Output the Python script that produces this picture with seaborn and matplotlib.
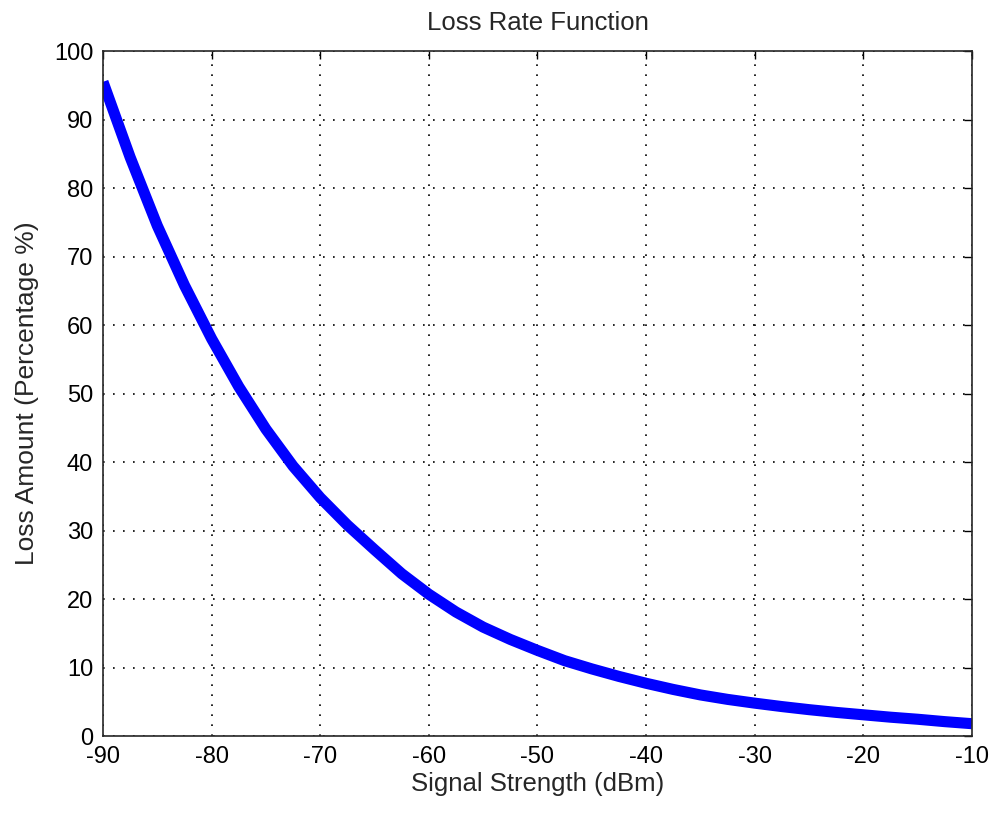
import matplotlib
matplotlib.use("Agg")
import matplotlib.pyplot as plt
import seaborn as sns
import pandas as pd

# Values
signal_dbm = [-90, -87.5, -85, -82.5, -80, -77.5, -75, -72.5, -70, -67.5,
              -65, -62.5, -60, -57.5, -55, -52.5, -50, -47.5, -45, -42.5,
              -40, -37.5, -35, -32.5, -30, -27.5, -25, -22.5, -20, -17.5,
              -15, -12.5, -10]
loss_pct = [95.5, 84.5, 74.5, 65.8, 58.0, 51.0, 44.8, 39.4, 34.8, 30.8,
            27.2, 23.7, 20.7, 18.1, 15.9, 14.1, 12.5, 11.0, 9.8, 8.7,
            7.7, 6.8, 6.0, 5.35, 4.8, 4.3, 3.85, 3.45, 3.1, 2.75,
            2.45, 2.1, 1.8]
x_ticks = list(range(-90, 0, 10))
y_ticks = list(range(0, 101, 10))

df = pd.DataFrame({"signal": signal_dbm, "loss": loss_pct})

sns.set_style("white")
plt.rcParams["font.family"] = ["Liberation Sans", "DejaVu Sans"]
plt.rcParams["axes.unicode_minus"] = False

fig = plt.figure(figsize=(9.92, 8.15), dpi=100)
ax = fig.add_axes([0.1038, 0.0969, 0.876, 0.8405])

sns.lineplot(data=df, x="signal", y="loss", ax=ax, color="#0000ff",
             linewidth=8, solid_capstyle="butt", solid_joinstyle="round")

ax.set_xlim(-90, -10)
ax.set_ylim(0, 100)
ax.set_xticks(x_ticks)
ax.set_yticks(y_ticks)

# MATLAB-like dotted grid
ax.grid(True, color="black", linestyle=(0, (1, 5)), linewidth=1.2)
ax.set_axisbelow(True)

ax.tick_params(direction="in", length=6, width=1, top=True, right=True,
               labelsize=17, colors="black", pad=7)
for s in ax.spines.values():
    s.set_color("#262626")
    s.set_linewidth(1.2)

ax.set_title("Loss Rate Function", fontsize=18.5, pad=15)
ax.set_xlabel("Signal Strength (dBm)", fontsize=18.5, labelpad=3)
ax.set_ylabel("Loss Amount (Percentage %)", fontsize=19, labelpad=11)

fig.savefig("out.png", dpi=100)
